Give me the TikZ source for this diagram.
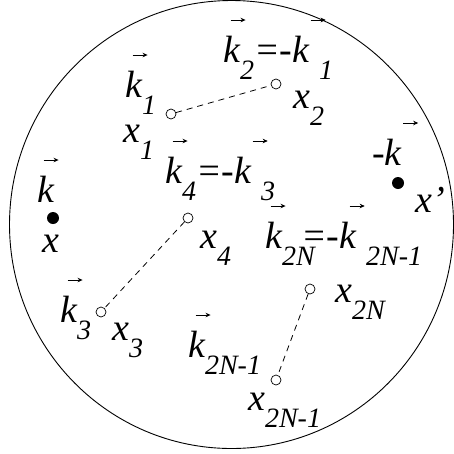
\documentclass[tikz,border=0pt]{standalone}
\usepackage{fontspec}
\setmainfont{Liberation Serif}
\usetikzlibrary{arrows.meta}

\newcommand{\arr}{\tikz[baseline]\draw[-{Stealth[length=5pt,width=4.5pt]},line width=0.7pt] (0pt,0pt) -- (15pt,0pt);}
\newcommand{\vk}[1][7pt]{\rlap{\hspace{#1}\raisebox{42pt}{\arr}}k}
\newcommand{\nvk}[1][18pt]{-\vk[#1]\hspace{10pt}}
\newcommand{\lo}[1]{\raisebox{-17pt}{\fontsize{28}{28}\selectfont #1}}

\begin{document}
	\begin{tikzpicture}[
		x=1pt, y=-1pt,
		label/.style={
			anchor=base west,
			inner sep=0pt,
			font=\fontsize{38}{38}\selectfont\itshape
		},
		site/.style={
			draw,
			circle,
			inner sep=0pt,
			minimum size=10pt,
			line width=0.7pt
		},
		vertex/.style={
			fill,
			circle,
			inner sep=0pt,
			minimum size=12pt
		},
		pair/.style={
			dash pattern=on 6pt off 5pt,
			line width=0.8pt
		}
		]
		
		\useasboundingbox (0,0) rectangle (454,453);
		\draw[line width=0.9pt] (231.5,224.5) ellipse [x radius=222, y radius=224];
		
		\node[site] (c1) at (171,114) {};
		\node[site] (c2) at (276,84) {};
		\node[site] (c4) at (188,218) {};
		\node[site] (c3) at (101,312) {};
		\node[site] (c2N) at (310,289) {};
		\node[site] (c2N1) at (276,380) {};
		
		\node[vertex] (d0) at (53,218) {};
		\node[vertex] (d1) at (398,183) {};
		
		\draw[pair] (c1) -- (c2);
		\draw[pair] (c4) -- (c3);
		\draw[pair] (c2N) -- (c2N1);
		
		\node[label] (k1) at (125,97) {\vk\lo{1}};
		\node[label] (x1) at (123,142) {x\lo{1}};
		\node[label] (k2) at (223,62) {\vk\lo{2}=\nvk\lo{1}};
		\node[label] (x2) at (293,108) {x\lo{2}};
		\node[label] (k4) at (165,183) {\vk\lo{4}=\nvk\lo{3}};
		\node[label] (x4) at (200,248) {x\lo{4}};
		\node[label] (k0) at (37,202) {\vk[6pt]};
		\node[label] (x0) at (42,252) {x};
		\node[label] (mk) at (372,165) {-\vk[18pt]};
		\node[label] (xp) at (415,212) {x'};
		\node[label] (k2N) at (265,248) {\vk[5pt]\rlap{\lo{2N}}\hspace{19pt}=\nvk[10pt]\lo{2N-1}};
		\node[label] (x2N) at (335,302) {x\lo{2N}};
		\node[label] (k3) at (60,322) {\vk\lo{3}};
		\node[label] (x3) at (112,340) {x\lo{3}};
		\node[label] (k2N1) at (188,357) {\vk\lo{2N-1}};
		\node[label] (x2N1) at (248,410) {x\lo{2N-1}};
		
	\end{tikzpicture}
\end{document}
